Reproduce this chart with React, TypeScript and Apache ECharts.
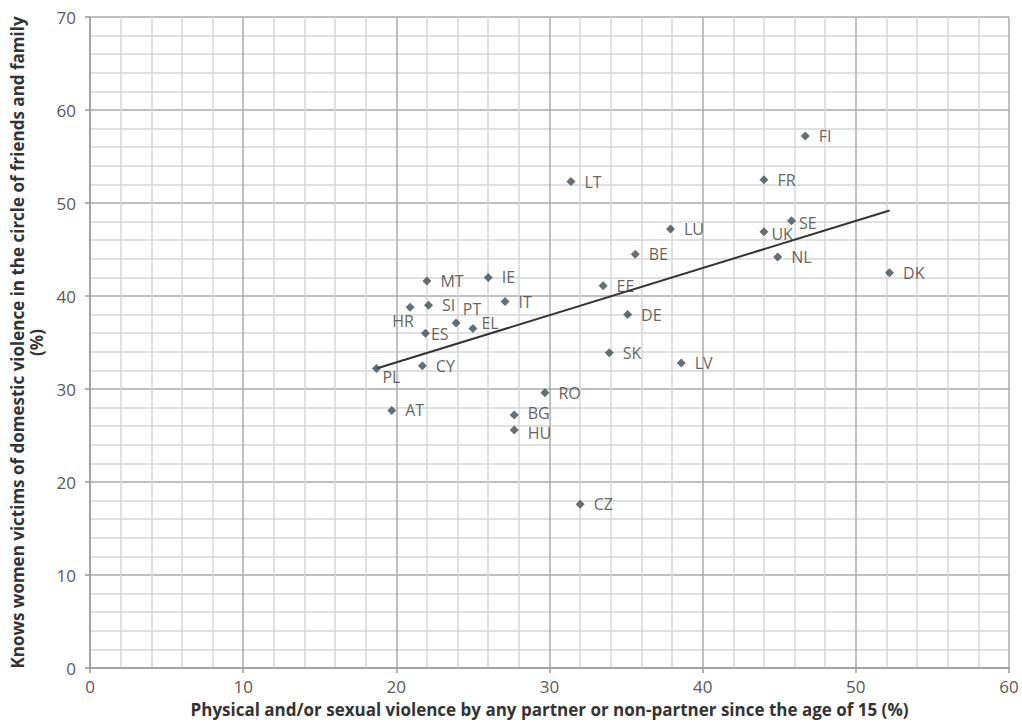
import React, { useEffect, useRef } from "react";
import * as echarts from "echarts";

const countries = ["FI","FR","LT","LU","SE","UK","NL","DK","BE","MT","IE","EE","SI","HR","IT","DE","PT","EL","ES","SK","LV","PL","CY","RO","AT","BG","HU","CZ"];
const violenceRate = [46.7,44.0,31.4,37.9,45.8,44.0,44.9,52.2,35.6,22.0,26.0,33.5,22.1,20.9,27.1,35.1,23.9,25.0,21.9,33.9,38.6,18.7,21.7,29.7,19.7,27.7,27.7,32.0];
const knowsVictims = [57.2,52.5,52.3,47.2,48.1,46.9,44.2,42.5,44.5,41.6,42.0,41.1,39.0,38.8,39.4,38.0,37.1,36.5,36.0,33.9,32.8,32.2,32.5,29.6,27.7,27.2,25.6,17.6];
const trendX = [18.7, 52.2];
const trendY = [32.2, 49.2];
const xTitle = "Physical and/or sexual violence by any partner or non-partner since the age of 15 (%)";
const yTitle = "Knows women victims of domestic violence in the circle of friends and family\n(%)";

const labelTweaks: Record<string, any> = {
  HR: { position: "bottom", distance: 2, offset: [-7, 0] },
  ES: { position: "right", distance: 1, offset: [0, 1] },
  PT: { position: "top", distance: 2, offset: [16, 0] },
  EL: { position: "right", distance: 4, offset: [0, -6] },
  PL: { position: "bottom", distance: 0, offset: [15, -3] },
  UK: { position: "right", distance: 3, offset: [0, 2] },
  SE: { position: "right", distance: 3, offset: [0, 2] },
  BG: { position: "right", offset: [0, -2] },
  HU: { position: "right", offset: [0, 3] },
};

export default function App() {
  const ref = useRef<HTMLDivElement>(null);
  useEffect(() => {
    const chart = echarts.init(ref.current!, null, { renderer: "svg" });
    const font = "'Open Sans', 'Noto Sans', sans-serif";
    const pts = countries.map((c, i) => {
      const t = labelTweaks[c];
      const d: any = { name: c, value: [violenceRate[i], knowsVictims[i]] };
      if (t) d.label = t;
      return d;
    });
    const axisCommon = {
      type: "value",
      min: 0,
      interval: 10,
      nameLocation: "middle",
      axisLine: { show: true, lineStyle: { color: "#9a9a9a", width: 1.5 } },
      axisTick: { show: true, length: 5, lineStyle: { color: "#9a9a9a", width: 1.5 } },
      splitLine: { show: true, lineStyle: { color: "#ababab", width: 1.5 } },
      minorTick: { show: false, splitNumber: 5 },
      minorSplitLine: { show: true, lineStyle: { color: "#d6d6d6", width: 1.5 } },
    };
    chart.setOption({
      animation: false,
      backgroundColor: "#ffffff",
      textStyle: { fontFamily: font },
      grid: { left: 90, right: 13, top: 17, bottom: 56, outerBoundsMode: "none", containLabel: false },
      xAxis: {
        ...axisCommon,
        max: 60,
        name: xTitle,
        nameGap: 33,
        nameTextStyle: { fontFamily: font, fontSize: 17, fontWeight: "bold", color: "#333" },
        axisLabel: { fontFamily: font, fontSize: 17, color: "#595959", margin: 10 },
      },
      yAxis: {
        ...axisCommon,
        max: 70,
        name: yTitle,
        nameRotate: 90,
        nameGap: 41,
        nameTextStyle: { fontFamily: font, fontSize: 17, fontWeight: "bold", color: "#333", lineHeight: 19 },
        axisLabel: { fontFamily: font, fontSize: 17, color: "#595959", margin: 14 },
      },
      series: [
        {
          type: "line",
          data: trendX.map((x, i) => [x, trendY[i]]),
          showSymbol: false,
          symbol: "none",
          lineStyle: { color: "#333", width: 2 },
          silent: true,
          z: 3,
        },
        {
          type: "scatter",
          data: pts,
          symbol: "diamond",
          symbolSize: 9,
          itemStyle: { color: "#3b4c59" },
          label: {
            show: true,
            formatter: "{b}",
            position: "right",
            distance: 9,
            fontFamily: font,
            fontSize: 16,
            lineHeight: 14,
            color: "#3a3a3a",
          },
          z: 4,
        },
      ],
    });
    return () => chart.dispose();
  }, []);
  return (
    <div
      ref={ref}
      style={{ position: "fixed", left: 0, top: 0, width: 1022, height: 724, background: "#fff" }}
    />
  );
}
